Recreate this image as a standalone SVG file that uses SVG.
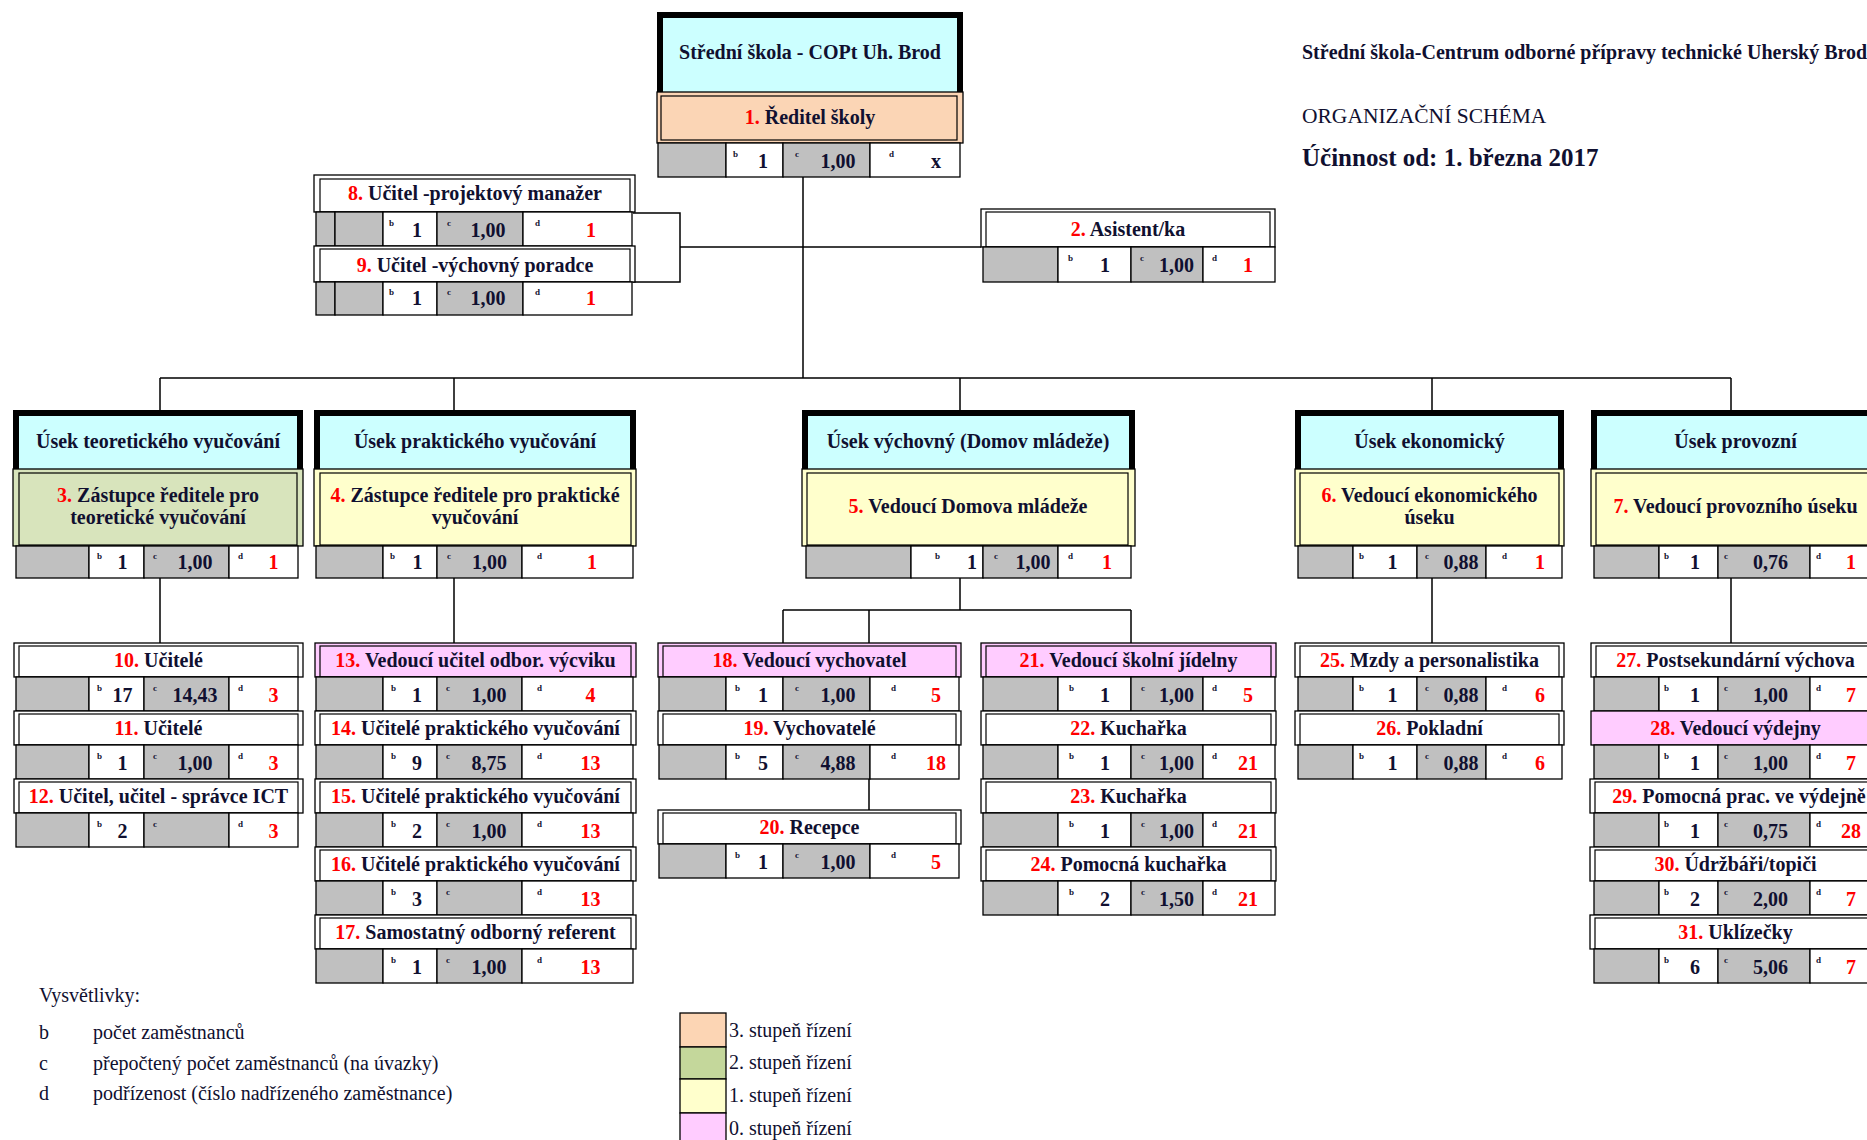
<svg xmlns="http://www.w3.org/2000/svg" width="1867" height="1140" viewBox="0 0 1867 1140">
<style>
.t{font-family:"Liberation Serif","Times New Roman",serif;font-weight:bold;font-size:20px;fill:#101030;text-anchor:middle}
.v{font-family:"Liberation Serif","Times New Roman",serif;font-weight:bold;font-size:20px;fill:#101030;text-anchor:middle}
.rd{fill:#ff0000}
.s{font-family:"Liberation Serif","Times New Roman",serif;font-weight:bold;font-size:9px;fill:#101030}
.l{font-family:"Liberation Serif","Times New Roman",serif;font-size:20px;fill:#101030}
.k{stroke:#000;stroke-width:1.3}
.g{fill:#c0c0c0;stroke:#000;stroke-width:1.3}
.w{fill:#fff;stroke:#000;stroke-width:1.3}
.p{fill:#ffccff;stroke:#000;stroke-width:1.3}
.y{fill:#ffffcc;stroke:#000;stroke-width:1.3}
.in{fill:none;stroke:#000;stroke-width:1.2}
.cy{fill:#ccffff}
.cn{fill:none;stroke:#000;stroke-width:1.5}
</style>
<rect width="1867" height="1140" fill="#fff"/>

<g id="connectors" class="cn">
<path d="M803 177V378M160 378H1731M160 378V410M454 378V410M960 378V410M1432 378V410M1731 378V410"/>
<path d="M680 247H981M633 213H680V282H633"/>
<path d="M160 578V643M454 578V643M960 578V610M783 610H1131M783 610V643M869 610V643M1131 610V643M869 779V810M1432 578V643M1731 578V643"/>
</g>

<g id="title">
<text class="t" x="1302" y="59" style="text-anchor:start">Střední škola-Centrum odborné přípravy technické Uherský Brod</text>
<text class="l" x="1302" y="123" style="font-size:21.5px">ORGANIZAČNÍ SCHÉMA</text>
<text class="t" x="1302" y="166" style="text-anchor:start;font-size:25px">Účinnost od: 1. března 2017</text>
</g>

<g id="n1">
<rect x="657" y="12" width="306" height="80" fill="#000"/>
<rect class="cy" x="663" y="18" width="294" height="74"/>
<text class="t" x="810" y="59">Střední škola - COPt Uh. Brod</text>
<rect class="k" x="657" y="92" width="306" height="51" fill="#fbd5b5"/>
<rect class="in" x="661" y="96" width="296" height="44"/>
<text class="t" x="810" y="124"><tspan class="rd">1.</tspan> Ředitel školy</text>
<rect class="g" x="658" y="143" width="68" height="34"/><rect class="w" x="726" y="143" width="57" height="34"/><rect class="g" x="783" y="143" width="87" height="34"/><rect class="w" x="870" y="143" width="90" height="34"/>
<text class="s" x="733" y="157">b</text><text class="v" x="763" y="168">1</text>
<text class="s" x="795" y="157">c</text><text class="v" x="838" y="168">1,00</text>
<text class="s" x="889" y="157">d</text><text class="v" x="936" y="168">x</text>
</g>

<g id="n2">
<rect class="w" x="981" y="209" width="294" height="38"/>
<rect class="in" x="986" y="212" width="284" height="35"/>
<text class="t" x="1128" y="236"><tspan class="rd">2.</tspan> Asistent/ka</text>
<rect class="g" x="983" y="247" width="75" height="35"/><rect class="w" x="1058" y="247" width="73" height="35"/><rect class="g" x="1131" y="247" width="72" height="35"/><rect class="w" x="1203" y="247" width="72" height="35"/>
<text class="s" x="1068" y="261">b</text><text class="v" x="1105" y="272">1</text>
<text class="s" x="1140" y="261">c</text><text class="v" x="1176.5" y="272">1,00</text>
<text class="s" x="1212" y="261">d</text><text class="v rd" x="1248" y="272">1</text>
</g>

<g id="n8">
<rect class="w" x="314" y="175" width="321" height="37"/>
<rect class="in" x="320" y="179" width="310" height="33"/>
<text class="t" x="475" y="200"><tspan class="rd">8.</tspan> Učitel -projektový manažer</text>
<rect class="g" x="316" y="212" width="19" height="34"/><rect class="g" x="335" y="212" width="48" height="34"/><rect class="w" x="383" y="212" width="54" height="34"/><rect class="g" x="437" y="212" width="86" height="34"/><rect class="w" x="523" y="212" width="109" height="34"/>
<text class="s" x="389" y="226">b</text><text class="v" x="417" y="237">1</text>
<text class="s" x="447" y="226">c</text><text class="v" x="488" y="237">1,00</text>
<text class="s" x="535" y="226">d</text><text class="v rd" x="591" y="237">1</text>
</g>

<g id="n9">
<rect class="w" x="314" y="246" width="321" height="36"/>
<rect class="in" x="320" y="249" width="310" height="33"/>
<text class="t" x="475" y="272"><tspan class="rd">9.</tspan> Učitel -výchovný poradce</text>
<rect class="g" x="316" y="282" width="19" height="33"/><rect class="g" x="335" y="282" width="48" height="33"/><rect class="w" x="383" y="282" width="54" height="33"/><rect class="g" x="437" y="282" width="86" height="33"/><rect class="w" x="523" y="282" width="109" height="33"/>
<text class="s" x="389" y="295">b</text><text class="v" x="417" y="305">1</text>
<text class="s" x="447" y="295">c</text><text class="v" x="488" y="305">1,00</text>
<text class="s" x="535" y="295">d</text><text class="v rd" x="591" y="305">1</text>
</g>

<g id="n3">
<rect x="13" y="410" width="290" height="59" fill="#000"/>
<rect class="cy" x="19" y="416" width="278" height="53"/>
<text class="t" x="158" y="448">Úsek teoretického vyučování</text>
<rect class="k" x="13" y="469" width="290" height="77" fill="#d8e4bc"/>
<rect class="in" x="19" y="473" width="278" height="72"/>
<text class="t" x="158" y="502"><tspan class="rd">3.</tspan> Zástupce ředitele pro</text>
<text class="t" x="158" y="524">teoretické vyučování</text>
<rect class="g" x="16" y="546" width="73" height="32"/><rect class="w" x="89" y="546" width="55" height="32"/><rect class="g" x="144" y="546" width="85" height="32"/><rect class="w" x="229" y="546" width="69" height="32"/>
<text class="s" x="97" y="559">b</text><text class="v" x="122.5" y="569">1</text>
<text class="s" x="153" y="559">c</text><text class="v" x="195" y="569">1,00</text>
<text class="s" x="238" y="559">d</text><text class="v rd" x="273.5" y="569">1</text>
</g>

<g id="n4">
<rect x="314" y="410" width="322" height="59" fill="#000"/>
<rect class="cy" x="320" y="416" width="310" height="53"/>
<text class="t" x="475" y="448">Úsek praktického vyučování</text>
<rect class="y" x="314" y="469" width="322" height="77"/>
<rect class="in" x="320" y="473" width="311" height="72"/>
<text class="t" x="475" y="502"><tspan class="rd">4.</tspan> Zástupce ředitele pro praktické</text>
<text class="t" x="475" y="524">vyučování</text>
<rect class="g" x="316" y="546" width="67" height="32"/><rect class="w" x="383" y="546" width="54" height="32"/><rect class="g" x="437" y="546" width="85" height="32"/><rect class="w" x="522" y="546" width="111" height="32"/>
<text class="s" x="390" y="559">b</text><text class="v" x="417.5" y="569">1</text>
<text class="s" x="447" y="559">c</text><text class="v" x="489.5" y="569">1,00</text>
<text class="s" x="537" y="559">d</text><text class="v rd" x="592" y="569">1</text>
</g>

<g id="n5">
<rect x="802" y="410" width="333" height="59" fill="#000"/>
<rect class="cy" x="808" y="416" width="321" height="53"/>
<text class="t" x="968" y="448">Úsek výchovný (Domov mládeže)</text>
<rect class="y" x="802" y="469" width="333" height="77"/>
<rect class="in" x="807" y="473" width="321" height="72"/>
<text class="t" x="968" y="513"><tspan class="rd">5.</tspan> Vedoucí Domova mládeže</text>
<rect class="g" x="806" y="546" width="105" height="32"/><rect class="w" x="911" y="546" width="72" height="32"/><rect class="g" x="983" y="546" width="75" height="32"/><rect class="w" x="1058" y="546" width="73" height="32"/>
<text class="s" x="935" y="559">b</text><text class="v" x="972" y="569">1</text>
<text class="s" x="994" y="559">c</text><text class="v" x="1033" y="569">1,00</text>
<text class="s" x="1068" y="559">d</text><text class="v rd" x="1107" y="569">1</text>
</g>

<g id="n6">
<rect x="1295" y="410" width="269" height="59" fill="#000"/>
<rect class="cy" x="1301" y="416" width="257" height="53"/>
<text class="t" x="1429.5" y="448">Úsek ekonomický</text>
<rect class="y" x="1295" y="469" width="269" height="77"/>
<rect class="in" x="1300" y="473" width="259" height="72"/>
<text class="t" x="1429.5" y="502"><tspan class="rd">6.</tspan> Vedoucí  ekonomického</text>
<text class="t" x="1429.5" y="524">úseku</text>
<rect class="g" x="1298" y="546" width="55" height="32"/><rect class="w" x="1353" y="546" width="64" height="32"/><rect class="g" x="1417" y="546" width="69" height="32"/><rect class="w" x="1486" y="546" width="76" height="32"/>
<text class="s" x="1359" y="559">b</text><text class="v" x="1392.5" y="569">1</text>
<text class="s" x="1425" y="559">c</text><text class="v" x="1461" y="569">0,88</text>
<text class="s" x="1502" y="559">d</text><text class="v rd" x="1540" y="569">1</text>
</g>

<g id="n7">
<rect x="1591" y="410" width="289" height="59" fill="#000"/>
<rect class="cy" x="1597" y="416" width="277" height="53"/>
<text class="t" x="1735.5" y="448">Úsek provozní</text>
<rect class="y" x="1591" y="469" width="289" height="77"/>
<rect class="in" x="1596" y="473" width="279" height="72"/>
<text class="t" x="1735.5" y="513"><tspan class="rd">7.</tspan> Vedoucí  provozního úseku</text>
<rect class="g" x="1594" y="546" width="65" height="32"/><rect class="w" x="1659" y="546" width="59" height="32"/><rect class="g" x="1718" y="546" width="92" height="32"/><rect class="w" x="1810" y="546" width="68" height="32"/>
<text class="s" x="1664" y="559">b</text><text class="v" x="1695" y="569">1</text>
<text class="s" x="1724" y="559">c</text><text class="v" x="1770.5" y="569">0,76</text>
<text class="s" x="1816" y="559">d</text><text class="v rd" x="1851" y="569">1</text>
</g>

<g id="n10">
<rect class="w" x="14" y="643" width="289" height="34"/><rect class="in" x="19" y="646" width="279" height="31"/>
<text class="t" x="158.5" y="667"><tspan class="rd">10.</tspan> Učitelé</text>
<rect class="g" x="16" y="677" width="73" height="34"/><rect class="w" x="89" y="677" width="55" height="34"/><rect class="g" x="144" y="677" width="85" height="34"/><rect class="w" x="229" y="677" width="69" height="34"/>
<text class="s" x="97" y="691">b</text><text class="v" x="122.5" y="702">17</text>
<text class="s" x="153" y="691">c</text><text class="v" x="195" y="702">14,43</text>
<text class="s" x="238" y="691">d</text><text class="v rd" x="273.5" y="702">3</text>
</g>
<g id="n11">
<rect class="w" x="14" y="711" width="289" height="34"/><rect class="in" x="19" y="714" width="279" height="31"/>
<text class="t" x="158.5" y="735"><tspan class="rd">11.</tspan> Učitelé</text>
<rect class="g" x="16" y="745" width="73" height="34"/><rect class="w" x="89" y="745" width="55" height="34"/><rect class="g" x="144" y="745" width="85" height="34"/><rect class="w" x="229" y="745" width="69" height="34"/>
<text class="s" x="97" y="759">b</text><text class="v" x="122.5" y="770">1</text>
<text class="s" x="153" y="759">c</text><text class="v" x="195" y="770">1,00</text>
<text class="s" x="238" y="759">d</text><text class="v rd" x="273.5" y="770">3</text>
</g>
<g id="n12">
<rect class="w" x="14" y="779" width="289" height="34"/><rect class="in" x="19" y="782" width="279" height="31"/>
<text class="t" x="158.5" y="803"><tspan class="rd">12.</tspan> Učitel, učitel - správce ICT</text>
<rect class="g" x="16" y="813" width="73" height="34"/><rect class="w" x="89" y="813" width="55" height="34"/><rect class="g" x="144" y="813" width="85" height="34"/><rect class="w" x="229" y="813" width="69" height="34"/>
<text class="s" x="97" y="827">b</text><text class="v" x="122.5" y="838">2</text>
<text class="s" x="153" y="827">c</text>
<text class="s" x="238" y="827">d</text><text class="v rd" x="273.5" y="838">3</text>
</g>

<g id="n13">
<rect class="p" x="315" y="643" width="321" height="34"/><rect class="in" x="320" y="646" width="311" height="31"/>
<text class="t" x="475.5" y="667"><tspan class="rd">13.</tspan> Vedoucí učitel odbor. výcviku</text>
<rect class="g" x="316" y="677" width="67" height="34"/><rect class="w" x="383" y="677" width="54" height="34"/><rect class="g" x="437" y="677" width="85" height="34"/><rect class="w" x="522" y="677" width="111" height="34"/>
<text class="s" x="391" y="691">b</text><text class="v" x="417" y="702">1</text>
<text class="s" x="446" y="691">c</text><text class="v" x="489" y="702">1,00</text>
<text class="s" x="537" y="691">d</text><text class="v rd" x="590.5" y="702">4</text>
</g>
<g id="n14">
<rect class="w" x="315" y="711" width="321" height="34"/><rect class="in" x="320" y="714" width="311" height="31"/>
<text class="t" x="475.5" y="735"><tspan class="rd">14.</tspan> Učitelé praktického vyučování</text>
<rect class="g" x="316" y="745" width="67" height="34"/><rect class="w" x="383" y="745" width="54" height="34"/><rect class="g" x="437" y="745" width="85" height="34"/><rect class="w" x="522" y="745" width="111" height="34"/>
<text class="s" x="391" y="759">b</text><text class="v" x="417" y="770">9</text>
<text class="s" x="446" y="759">c</text><text class="v" x="489" y="770">8,75</text>
<text class="s" x="537" y="759">d</text><text class="v rd" x="590.5" y="770">13</text>
</g>
<g id="n15">
<rect class="w" x="315" y="779" width="321" height="34"/><rect class="in" x="320" y="782" width="311" height="31"/>
<text class="t" x="475.5" y="803"><tspan class="rd">15.</tspan> Učitelé praktického vyučování</text>
<rect class="g" x="316" y="813" width="67" height="34"/><rect class="w" x="383" y="813" width="54" height="34"/><rect class="g" x="437" y="813" width="85" height="34"/><rect class="w" x="522" y="813" width="111" height="34"/>
<text class="s" x="391" y="827">b</text><text class="v" x="417" y="838">2</text>
<text class="s" x="446" y="827">c</text><text class="v" x="489" y="838">1,00</text>
<text class="s" x="537" y="827">d</text><text class="v rd" x="590.5" y="838">13</text>
</g>
<g id="n16">
<rect class="w" x="315" y="847" width="321" height="34"/><rect class="in" x="320" y="850" width="311" height="31"/>
<text class="t" x="475.5" y="871"><tspan class="rd">16.</tspan> Učitelé praktického vyučování</text>
<rect class="g" x="316" y="881" width="67" height="34"/><rect class="w" x="383" y="881" width="54" height="34"/><rect class="g" x="437" y="881" width="85" height="34"/><rect class="w" x="522" y="881" width="111" height="34"/>
<text class="s" x="391" y="895">b</text><text class="v" x="417" y="906">3</text>
<text class="s" x="446" y="895">c</text>
<text class="s" x="537" y="895">d</text><text class="v rd" x="590.5" y="906">13</text>
</g>
<g id="n17">
<rect class="w" x="315" y="915" width="321" height="34"/><rect class="in" x="320" y="918" width="311" height="31"/>
<text class="t" x="475.5" y="939"><tspan class="rd">17.</tspan> Samostatný odborný referent</text>
<rect class="g" x="316" y="949" width="67" height="34"/><rect class="w" x="383" y="949" width="54" height="34"/><rect class="g" x="437" y="949" width="85" height="34"/><rect class="w" x="522" y="949" width="111" height="34"/>
<text class="s" x="391" y="963">b</text><text class="v" x="417" y="974">1</text>
<text class="s" x="446" y="963">c</text><text class="v" x="489" y="974">1,00</text>
<text class="s" x="537" y="963">d</text><text class="v rd" x="590.5" y="974">13</text>
</g>

<g id="n18">
<rect class="p" x="658" y="643" width="303" height="34"/><rect class="in" x="663" y="646" width="293" height="31"/>
<text class="t" x="809.5" y="667"><tspan class="rd">18.</tspan> Vedoucí vychovatel</text>
<rect class="g" x="659" y="677" width="67" height="34"/><rect class="w" x="726" y="677" width="57" height="34"/><rect class="g" x="783" y="677" width="87" height="34"/><rect class="w" x="870" y="677" width="89" height="34"/>
<text class="s" x="735" y="691">b</text><text class="v" x="763" y="702">1</text>
<text class="s" x="795" y="691">c</text><text class="v" x="838" y="702">1,00</text>
<text class="s" x="891" y="691">d</text><text class="v rd" x="936" y="702">5</text>
</g>
<g id="n19">
<rect class="w" x="658" y="711" width="303" height="34"/><rect class="in" x="663" y="714" width="293" height="31"/>
<text class="t" x="809.5" y="735"><tspan class="rd">19.</tspan> Vychovatelé</text>
<rect class="g" x="659" y="745" width="67" height="34"/><rect class="w" x="726" y="745" width="57" height="34"/><rect class="g" x="783" y="745" width="87" height="34"/><rect class="w" x="870" y="745" width="89" height="34"/>
<text class="s" x="735" y="759">b</text><text class="v" x="763" y="770">5</text>
<text class="s" x="795" y="759">c</text><text class="v" x="838" y="770">4,88</text>
<text class="s" x="891" y="759">d</text><text class="v rd" x="936" y="770">18</text>
</g>
<g id="n20">
<rect class="w" x="658" y="810" width="303" height="34"/><rect class="in" x="663" y="813" width="293" height="31"/>
<text class="t" x="809.5" y="834"><tspan class="rd">20.</tspan> Recepce</text>
<rect class="g" x="659" y="844" width="67" height="34"/><rect class="w" x="726" y="844" width="57" height="34"/><rect class="g" x="783" y="844" width="87" height="34"/><rect class="w" x="870" y="844" width="89" height="34"/>
<text class="s" x="735" y="858">b</text><text class="v" x="763" y="869">1</text>
<text class="s" x="795" y="858">c</text><text class="v" x="838" y="869">1,00</text>
<text class="s" x="891" y="858">d</text><text class="v rd" x="936" y="869">5</text>
</g>

<g id="n21">
<rect class="p" x="981" y="643" width="295" height="34"/><rect class="in" x="986" y="646" width="285" height="31"/>
<text class="t" x="1128.5" y="667"><tspan class="rd">21.</tspan> Vedoucí školní jídelny</text>
<rect class="g" x="983" y="677" width="75" height="34"/><rect class="w" x="1058" y="677" width="73" height="34"/><rect class="g" x="1131" y="677" width="72" height="34"/><rect class="w" x="1203" y="677" width="72" height="34"/>
<text class="s" x="1069" y="691">b</text><text class="v" x="1105" y="702">1</text>
<text class="s" x="1141" y="691">c</text><text class="v" x="1176.5" y="702">1,00</text>
<text class="s" x="1212" y="691">d</text><text class="v rd" x="1248" y="702">5</text>
</g>
<g id="n22">
<rect class="w" x="981" y="711" width="295" height="34"/><rect class="in" x="986" y="714" width="285" height="31"/>
<text class="t" x="1128.5" y="735"><tspan class="rd">22.</tspan> Kuchařka</text>
<rect class="g" x="983" y="745" width="75" height="34"/><rect class="w" x="1058" y="745" width="73" height="34"/><rect class="g" x="1131" y="745" width="72" height="34"/><rect class="w" x="1203" y="745" width="72" height="34"/>
<text class="s" x="1069" y="759">b</text><text class="v" x="1105" y="770">1</text>
<text class="s" x="1141" y="759">c</text><text class="v" x="1176.5" y="770">1,00</text>
<text class="s" x="1212" y="759">d</text><text class="v rd" x="1248" y="770">21</text>
</g>
<g id="n23">
<rect class="w" x="981" y="779" width="295" height="34"/><rect class="in" x="986" y="782" width="285" height="31"/>
<text class="t" x="1128.5" y="803"><tspan class="rd">23.</tspan> Kuchařka</text>
<rect class="g" x="983" y="813" width="75" height="34"/><rect class="w" x="1058" y="813" width="73" height="34"/><rect class="g" x="1131" y="813" width="72" height="34"/><rect class="w" x="1203" y="813" width="72" height="34"/>
<text class="s" x="1069" y="827">b</text><text class="v" x="1105" y="838">1</text>
<text class="s" x="1141" y="827">c</text><text class="v" x="1176.5" y="838">1,00</text>
<text class="s" x="1212" y="827">d</text><text class="v rd" x="1248" y="838">21</text>
</g>
<g id="n24">
<rect class="w" x="981" y="847" width="295" height="34"/><rect class="in" x="986" y="850" width="285" height="31"/>
<text class="t" x="1128.5" y="871"><tspan class="rd">24.</tspan> Pomocná kuchařka</text>
<rect class="g" x="983" y="881" width="75" height="34"/><rect class="w" x="1058" y="881" width="73" height="34"/><rect class="g" x="1131" y="881" width="72" height="34"/><rect class="w" x="1203" y="881" width="72" height="34"/>
<text class="s" x="1069" y="895">b</text><text class="v" x="1105" y="906">2</text>
<text class="s" x="1141" y="895">c</text><text class="v" x="1176.5" y="906">1,50</text>
<text class="s" x="1212" y="895">d</text><text class="v rd" x="1248" y="906">21</text>
</g>

<g id="n25">
<rect class="w" x="1295" y="643" width="269" height="34"/><rect class="in" x="1300" y="646" width="259" height="31"/>
<text class="t" x="1429.5" y="667"><tspan class="rd">25.</tspan> Mzdy a personalistika</text>
<rect class="g" x="1298" y="677" width="55" height="34"/><rect class="w" x="1353" y="677" width="64" height="34"/><rect class="g" x="1417" y="677" width="69" height="34"/><rect class="w" x="1486" y="677" width="76" height="34"/>
<text class="s" x="1359" y="691">b</text><text class="v" x="1392.5" y="702">1</text>
<text class="s" x="1425" y="691">c</text><text class="v" x="1461" y="702">0,88</text>
<text class="s" x="1502" y="691">d</text><text class="v rd" x="1540" y="702">6</text>
</g>
<g id="n26">
<rect class="w" x="1295" y="711" width="269" height="34"/><rect class="in" x="1300" y="714" width="259" height="31"/>
<text class="t" x="1429.5" y="735"><tspan class="rd">26.</tspan> Pokladní</text>
<rect class="g" x="1298" y="745" width="55" height="34"/><rect class="w" x="1353" y="745" width="64" height="34"/><rect class="g" x="1417" y="745" width="69" height="34"/><rect class="w" x="1486" y="745" width="76" height="34"/>
<text class="s" x="1359" y="759">b</text><text class="v" x="1392.5" y="770">1</text>
<text class="s" x="1425" y="759">c</text><text class="v" x="1461" y="770">0,88</text>
<text class="s" x="1502" y="759">d</text><text class="v rd" x="1540" y="770">6</text>
</g>

<g id="n27">
<rect class="w" x="1591" y="643" width="289" height="34"/><rect class="in" x="1596" y="646" width="279" height="31"/>
<text class="t" x="1735.5" y="667"><tspan class="rd">27.</tspan> Postsekundární výchova</text>
<rect class="g" x="1594" y="677" width="65" height="34"/><rect class="w" x="1659" y="677" width="59" height="34"/><rect class="g" x="1718" y="677" width="92" height="34"/><rect class="w" x="1810" y="677" width="68" height="34"/>
<text class="s" x="1664" y="691">b</text><text class="v" x="1695" y="702">1</text>
<text class="s" x="1724" y="691">c</text><text class="v" x="1770.5" y="702">1,00</text>
<text class="s" x="1816" y="691">d</text><text class="v rd" x="1851" y="702">7</text>
</g>
<g id="n28">
<rect class="p" x="1591" y="711" width="289" height="34"/>
<text class="t" x="1735.5" y="735"><tspan class="rd">28.</tspan> Vedoucí výdejny</text>
<rect class="g" x="1594" y="745" width="65" height="34"/><rect class="w" x="1659" y="745" width="59" height="34"/><rect class="g" x="1718" y="745" width="92" height="34"/><rect class="w" x="1810" y="745" width="68" height="34"/>
<text class="s" x="1664" y="759">b</text><text class="v" x="1695" y="770">1</text>
<text class="s" x="1724" y="759">c</text><text class="v" x="1770.5" y="770">1,00</text>
<text class="s" x="1816" y="759">d</text><text class="v rd" x="1851" y="770">7</text>
</g>
<g id="n29">
<rect class="w" x="1590" y="779" width="290" height="34"/><rect class="in" x="1595" y="782" width="280" height="31"/>
<text class="t" x="1739" y="803"><tspan class="rd">29.</tspan> Pomocná prac. ve výdejně</text>
<rect class="g" x="1594" y="813" width="65" height="34"/><rect class="w" x="1659" y="813" width="59" height="34"/><rect class="g" x="1718" y="813" width="92" height="34"/><rect class="w" x="1810" y="813" width="68" height="34"/>
<text class="s" x="1664" y="827">b</text><text class="v" x="1695" y="838">1</text>
<text class="s" x="1724" y="827">c</text><text class="v" x="1770.5" y="838">0,75</text>
<text class="s" x="1816" y="827">d</text><text class="v rd" x="1851" y="838">28</text>
</g>
<g id="n30">
<rect class="w" x="1590" y="847" width="290" height="34"/><rect class="in" x="1595" y="850" width="280" height="31"/>
<text class="t" x="1735.5" y="871"><tspan class="rd">30.</tspan> Údržbáři/topiči</text>
<rect class="g" x="1594" y="881" width="65" height="34"/><rect class="w" x="1659" y="881" width="59" height="34"/><rect class="g" x="1718" y="881" width="92" height="34"/><rect class="w" x="1810" y="881" width="68" height="34"/>
<text class="s" x="1664" y="895">b</text><text class="v" x="1695" y="906">2</text>
<text class="s" x="1724" y="895">c</text><text class="v" x="1770.5" y="906">2,00</text>
<text class="s" x="1816" y="895">d</text><text class="v rd" x="1851" y="906">7</text>
</g>
<g id="n31">
<rect class="w" x="1590" y="915" width="290" height="34"/><rect class="in" x="1595" y="918" width="280" height="31"/>
<text class="t" x="1735.5" y="939"><tspan class="rd">31.</tspan> Uklízečky</text>
<rect class="g" x="1594" y="949" width="65" height="34"/><rect class="w" x="1659" y="949" width="59" height="34"/><rect class="g" x="1718" y="949" width="92" height="34"/><rect class="w" x="1810" y="949" width="68" height="34"/>
<text class="s" x="1664" y="963">b</text><text class="v" x="1695" y="974">6</text>
<text class="s" x="1724" y="963">c</text><text class="v" x="1770.5" y="974">5,06</text>
<text class="s" x="1816" y="963">d</text><text class="v rd" x="1851" y="974">7</text>
</g>

<g id="legend">
<text class="l" x="39" y="1002">Vysvětlivky:</text>
<text class="l" x="39" y="1039">b</text><text class="l" x="93" y="1039">počet zaměstnanců</text>
<text class="l" x="39" y="1070">c</text><text class="l" x="93" y="1070">přepočtený počet zaměstnanců (na úvazky)</text>
<text class="l" x="39" y="1100">d</text><text class="l" x="93" y="1100">podřízenost (číslo nadřízeného zaměstnance)</text>
<rect class="k" x="680" y="1013" width="46" height="34" fill="#fcd5b4"/>
<rect class="k" x="680" y="1047" width="46" height="32" fill="#c4d79b"/>
<rect class="k" x="680" y="1079" width="46" height="34" fill="#ffffcc"/>
<rect class="k" x="680" y="1113" width="46" height="34" fill="#ffccff"/>
<text class="l" x="729" y="1037">3. stupeň řízení</text>
<text class="l" x="729" y="1069">2. stupeň řízení</text>
<text class="l" x="729" y="1102">1. stupeň řízení</text>
<text class="l" x="729" y="1135">0. stupeň řízení</text>
</g>
</svg>
